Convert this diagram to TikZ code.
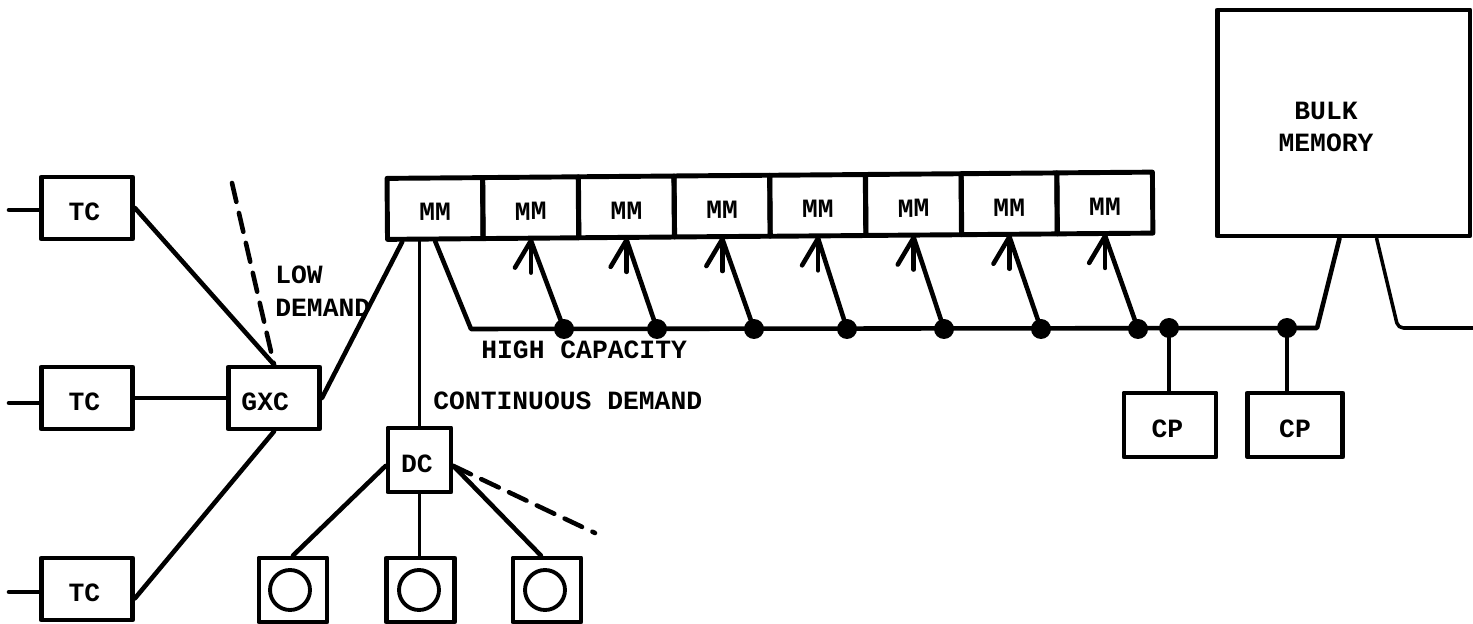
\documentclass[tikz,border=0pt]{standalone}
\usepackage{fontspec}
\setmainfont{Liberation Mono}
\tikzset{
  unitbox/.style={draw,line width=2.8pt,inner sep=0pt,text height=14pt,text depth=0pt,font=\fontsize{15}{18}\selectfont\bfseries},
  tcbox/.style={unitbox,minimum width=1.82cm,minimum height=1.24cm},
  mmbox/.style={unitbox,minimum width=1.91cm,minimum height=1.22cm,rotate=0.45},
  diskbox/.style={draw,line width=2.8pt,inner sep=0pt,minimum width=1.36cm,minimum height=1.28cm},
  ring/.style={draw,circle,line width=2.2pt,inner sep=0pt,minimum size=0.8cm},
  tap/.style={fill=black,circle,inner sep=0pt,minimum size=0.4cm},
  link/.style={line width=2.6pt},
  thinlink/.style={line width=2pt},
  dashlink/.style={line width=2.6pt,dash pattern=on 11pt off 6.5pt},
  tag/.style={inner sep=0pt,font=\fontsize{15}{18}\selectfont\bfseries}
}
\begin{document}
\begin{tikzpicture}[x=0.02cm,y=-0.02cm,line cap=round,line join=round]
  \useasboundingbox (0,0) rectangle (1473,624);

  % Terminal controllers, the group controller and its links.
  \node[tcbox] (tc1) at (87,208) {TC\kern3pt};
  \node[tcbox] (tc2) at (87,398) {TC\kern3pt};
  \node[tcbox] (tc3) at (87,589) {TC\kern3pt};
  \node[tcbox] (gxc) at (274,398) {GXC\kern10pt};
  \foreach \i/\y in {1/210,2/403,3/592} {
    \coordinate (stub\i) at (9,\y);
    \draw[link] (stub\i) -- (stub\i -| tc\i.west);
  }
  \draw[link] (tc1.east) -- (gxc.north);
  \draw[link] (tc2.east |- gxc.west) -- (gxc.west);
  \draw[link] (tc3.-11) -- (gxc.south);
  \coordinate (lowend) at (232,183);
  \draw[dashlink] (lowend) -- (gxc.north);
  \node[tag,anchor=west] (lowtag) at (275,275) {LOW};
  \node[tag,anchor=west] (demandtag) at (275,308) {DEMAND};

  % Row of memory modules.
  \foreach \i/\x/\y in {1/435/208.5,2/530.7/207.7,3/626.4/206.9,4/722.1/206.1,5/817.8/205.4,6/913.5/204.6,7/1009.2/203.8,8/1104.9/203} {
    \node[mmbox] (mm\i) at (\x,\y) {MM};
  }
  \draw[link] (gxc.east) -- (mm1.-135);

  % High capacity bus and the taps up to the modules.
  \coordinate (buscorner) at (471,329);
  \coordinate (busend) at (1317,328);
  \node[unitbox,minimum width=5.06cm,minimum height=4.52cm] (bulk) at (1343.5,123) {};
  \node[tag,align=center] (bulktag) at (1326,127) {BULK\\MEMORY};
  \draw[link] (mm1.south) -- (buscorner) -- (busend) -- (bulk.-92);
  \foreach \i/\x in {2/564,3/657,4/754,5/847,6/944,7/1041,8/1138} {
    \node[tap] (bus\i) at (\x,329) {};
    \draw[link] (bus\i.center) -- (mm\i.south);
    \draw[link] (mm\i.south) -- ++(-16,27);
    \draw[link] (mm\i.south) -- ++(0,32);
  }
  \node[tag,anchor=west] (hightag) at (481,350) {HIGH CAPACITY};

  % Onward link from the bulk memory.
  \coordinate (outbend) at (1398,328);
  \coordinate (outend) at (1473,328);
  \draw[thinlink,rounded corners=3pt] (bulk.-74) -- (outbend) -- (outend);

  % Central processors.
  \node[tcbox,minimum width=1.84cm,minimum height=1.28cm] (cp1) at (1170,425) {CP\kern3pt};
  \node[tcbox,minimum width=1.9cm,minimum height=1.28cm] (cp2) at (1295,425) {CP};
  \node[tap] (cptap1) at (1169,328) {};
  \node[tap] (cptap2) at (1287,328) {};
  \draw[link] (cptap1.center) -- (cptap1 |- cp1.north);
  \draw[link] (cptap2.center) -- (cptap2 |- cp2.north);

  % Disk controller with its drives.
  \node[unitbox,minimum width=1.26cm,minimum height=1.28cm] (dc) at (419.5,460) {DC\kern3pt};
  \draw[thinlink] (dc.north) -- (dc.north |- mm1.south);
  \node[tag,anchor=west] (conttag) at (433,401) {CONTINUOUS DEMAND};
  \foreach \i/\x/\cx in {1/293/290,2/420.5/419,3/547/545} {
    \node[diskbox] (disk\i) at (\x,590) {};
    \node[ring] (ring\i) at (\cx,590) {};
  }
  \draw[link] (dc.-170) -- (disk1.north);
  \draw[thinlink] (dc.south) -- (dc.south |- disk2.north);
  \draw[link] (dc.-10) -- (disk3.100);
  \coordinate (dcend) at (595,533);
  \draw[dashlink] (dc.-10) -- (dcend);
\end{tikzpicture}
\end{document}
